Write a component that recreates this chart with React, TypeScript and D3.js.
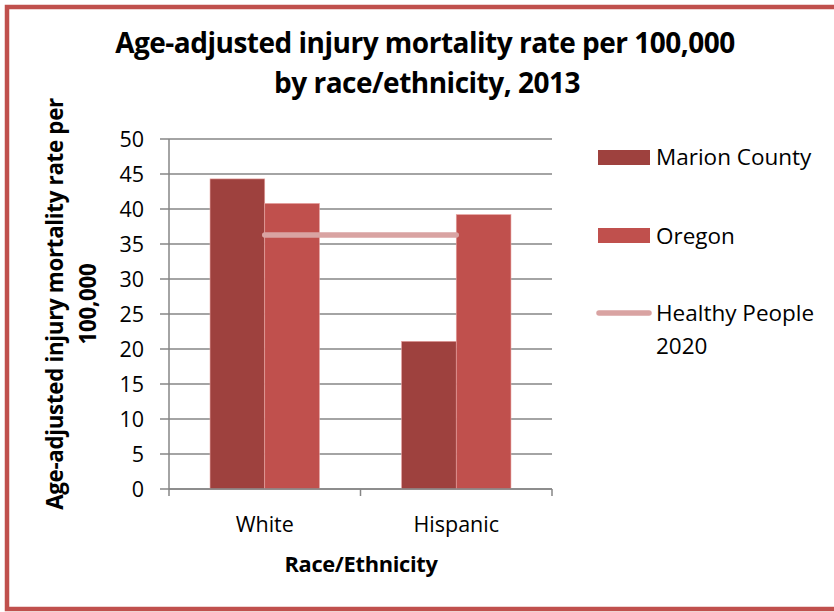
import React from "react";
import * as d3 from "d3";

const categories = ["White", "Hispanic"];
const seriesNames = ["Marion County", "Oregon"];
const marionCounty = [44.3, 21.1];
const oregon = [40.8, 39.2];
const healthyPeople2020 = [36.3, 36.3];
const yTicks = [0, 5, 10, 15, 20, 25, 30, 35, 40, 45, 50];

const W = 834;
const H = 612;
const plot = { left: 169, right: 552, top: 139, bottom: 489 };
const colors = { marion: "#9E413E", oregon: "#C0504D", hp: "#D9A3A2", grid: "#868686", border: "#C0504D" };
const FONT = "'Open Sans', Lato, sans-serif";

export default function App() {
  const y = d3.scaleLinear().domain([0, 50]).range([plot.bottom, plot.top]);
  const x = d3.scaleBand<string>().domain(categories).range([plot.left, plot.right]).paddingInner(0).paddingOuter(0);
  const xs = d3.scaleBand<string>().domain(seriesNames).range([0, x.bandwidth()]).paddingInner(0).paddingOuter(0.75);
  const values = [marionCounty, oregon];
  const barColors = [colors.marion, colors.oregon];
  const line = d3
    .line<number>()
    .x((_, i) => (x(categories[i]) as number) + x.bandwidth() / 2)
    .y((d) => y(d));

  return (
    <svg width={W} height={H} style={{ position: "absolute", left: 0, top: 0, background: "#fff" }} fontFamily={FONT}>
      <rect x={0} y={0} width={W} height={H} fill="#fff" />
      <rect x={7} y={7} width={W + 20} height={602} fill="none" stroke={colors.border} strokeWidth={4.5} />
      {/* Title */}
      <text x={425} y={53} textAnchor="middle" fontSize={28} fontWeight={700} fill="#000" letterSpacing={-0.5}>
        Age-adjusted injury mortality rate per 100,000
      </text>
      <text x={427} y={93} textAnchor="middle" fontSize={28} fontWeight={700} fill="#000" letterSpacing={-0.5}>
        by race/ethnicity, 2013
      </text>
      {/* gridlines */}
      {yTicks.map((t) => (
        <line key={"g" + t} x1={plot.left - 9} x2={plot.right} y1={y(t)} y2={y(t)} stroke={colors.grid} strokeWidth={1.5} />
      ))}
      {/* y labels */}
      {yTicks.map((t) => (
        <text key={"l" + t} x={144} y={y(t)} dy="0.36em" textAnchor="end" fontSize={21.5} fill="#000">
          {t}
        </text>
      ))}
      {/* bars */}
      {categories.map((c, ci) =>
        seriesNames.map((s, si) => {
          const bx = (x(c) as number) + (xs(s) as number);
          const by = y(values[si][ci]);
          return (
            <rect
              key={c + s}
              x={bx}
              y={by}
              width={xs.bandwidth()}
              height={plot.bottom - by}
              fill={barColors[si]}
              stroke="#E8A5A3"
              strokeWidth={0.6}
            />
          );
        })
      )}
      {/* axes */}
      <line x1={plot.left} x2={plot.left} y1={plot.top} y2={plot.bottom} stroke={colors.grid} strokeWidth={1.5} />
      <line x1={plot.left} x2={plot.right} y1={plot.bottom} y2={plot.bottom} stroke={colors.grid} strokeWidth={1.5} />
      {[plot.left, (plot.left + plot.right) / 2, plot.right].map((tx, i) => (
        <line key={"xt" + i} x1={tx} x2={tx} y1={plot.bottom} y2={plot.bottom + 7} stroke={colors.grid} strokeWidth={1.5} />
      ))}
      {/* healthy people line */}
      <path d={line(healthyPeople2020) || ""} fill="none" stroke={colors.hp} strokeWidth={5.5} strokeLinecap="round" />
      {/* x labels */}
      {categories.map((c) => (
        <text key={"x" + c} x={(x(c) as number) + x.bandwidth() / 2} y={532} textAnchor="middle" fontSize={21.5} fill="#000">
          {c}
        </text>
      ))}
      <text x={361} y={572} textAnchor="middle" fontSize={21.8} fontWeight={700} fill="#000" letterSpacing={-0.3}>
        Race/Ethnicity
      </text>
      {/* y title */}
      <g transform="translate(63,304) rotate(-90)">
        <text x={0} y={0} textAnchor="middle" fontSize={22.3} fontWeight={700} fill="#000" letterSpacing={-0.3}>
          Age-adjusted injury mortality rate per
        </text>
        <text x={0} y={33} textAnchor="middle" fontSize={22.3} fontWeight={700} fill="#000" letterSpacing={-0.3}>
          100,000
        </text>
      </g>
      {/* legend */}
      <rect x={598} y={150} width={52} height={15} fill={colors.marion} />
      <text x={656} y={157} dy="0.36em" fontSize={22.5} fill="#000">Marion County</text>
      <rect x={598} y={228} width={52} height={15} fill={colors.oregon} />
      <text x={656} y={236} dy="0.36em" fontSize={22.5} fill="#000">Oregon</text>
      <line x1={599} x2={649} y1={313} y2={313} stroke={colors.hp} strokeWidth={5.5} strokeLinecap="round" />
      <text x={656} y={313} dy="0.36em" fontSize={22.5} fill="#000">Healthy People</text>
      <text x={656} y={346} dy="0.36em" fontSize={22.5} fill="#000">2020</text>
    </svg>
  );
}
